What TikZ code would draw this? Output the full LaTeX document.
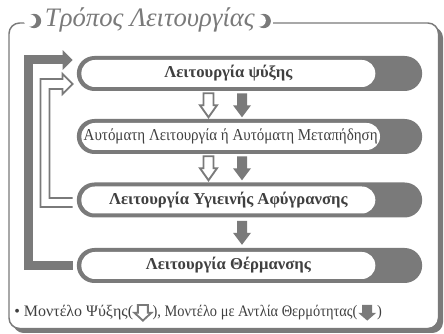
\documentclass[tikz,border=0pt]{standalone}
\usepackage{fontspec}
\setmainfont{Liberation Serif}
\newfontfamily\condfont[FakeStretch=0.9]{Liberation Serif}
\usetikzlibrary{arrows.meta,calc,shapes.misc,positioning}

\definecolor{modegray}{HTML}{7A7A7A}
\definecolor{inkgray}{HTML}{404040}

\tikzset{
  outerpill/.style={rounded rectangle, fill=modegray, minimum width=259pt,
    minimum height=26.25pt, inner sep=0pt},
  innerpill/.style={rounded rectangle, fill=white, minimum width=220.5pt,
    minimum height=20.25pt, inner sep=0pt, text=inkgray,
    font=\fontsize{12.5}{14}\selectfont\bfseries},
  backline/.style={draw=modegray, line width=6.75pt,
    -{Triangle[width=14.5pt,length=7.5pt]}},
  hollowline/.style={draw=modegray, line width=1.3pt, line join=miter},
  foot/.style={text=inkgray, font=\condfont\fontsize{12}{14}\selectfont, inner sep=0pt},
  hollowdown/.pic={\draw[modegray, line width=1.4pt, fill=white]
    (-5,0) -- (-5,12) -- (-8.5,12) -- (0,24) -- (8.5,12) -- (5,12) -- (5,0) -- cycle;},
  soliddown/.pic={\fill[modegray]
    (-5,0) -- (-5,12) -- (-9,12) -- (0,24) -- (9,12) -- (5,12) -- (5,0) -- cycle;},
  moon/.pic={\fill[modegray] (0,0) circle (5.4pt);
    \fill[white] (-4,-0.5) circle (4.6pt);}
}

\begin{document}
\begin{tikzpicture}[x=0.75pt,y=-0.75pt]
  \useasboundingbox (0,0) rectangle (444,334);

  % frame with shadow
  \fill[modegray, rounded corners=8pt] (13,27) rectangle (443,333);
  \draw[modegray, line width=1.1pt, fill=white, rounded corners=8pt] (9,23) rectangle (438.5,328.5);
  \node[anchor=west, fill=white, inner ysep=1pt, inner xsep=14pt, text=modegray,
    font=\fontsize{20}{22}\selectfont\itshape] (title) at (26,20) {Τρόπος Λειτουργίας};
  \pic at ($(title.west)+(8,1)$) {moon};
  \pic at ($(title.east)+(-10,1)$) {moon};

  % modes
  \node[outerpill] (cool) at (249.5,73.5) {};
  \node[innerpill, anchor=west] (coolt) at ($(cool.west)+(4.5,0)$) {Λειτουργία ψύξης};
  \node[outerpill] (auto) at (249.5,136.5) {};
  \node[innerpill, anchor=west, font=\condfont\fontsize{12.5}{14}\selectfont] (autot)
    at ($(auto.west)+(4.5,0)$) {Αυτόματη Λειτουργία ή Αυτόματη Μεταπήδηση};
  \node[outerpill] (dry) at (249.5,200) {};
  \node[innerpill, anchor=west] (dryt) at ($(dry.west)+(4.5,0)$) {Λειτουργία Υγιεινής Αφύγρανσης};
  \node[outerpill] (heat) at (249.5,265.5) {};
  \node[innerpill, anchor=west] (heatt) at ($(heat.west)+(4.5,0)$) {Λειτουργία Θέρμανσης};

  % down arrows
  \pic at ($(cool.south)+(-41,2)$) {hollowdown};
  \pic at ($(cool.south)+(-7.5,2)$) {soliddown};
  \pic at ($(auto.south)+(-41,2)$) {hollowdown};
  \pic at ($(auto.south)+(-7.5,2)$) {soliddown};
  \pic at ($(dry.south)+(-7.5,3)$) {soliddown};

  % return arrows
  \draw[backline] ($(heat.west)+(-4,0)$) -- ++(-44.5,0) |- ($(cool.west)+(-4,-13.5)$);
  \draw[hollowline] ($(dry.west)+(-4,7)$) -| ($(cool.west)+(-36,5.5)$) -- ++(22,0)
    -- ++(0,-5) -- ($(cool.west)+(-4,10.5)$) -- ++(-10,10) -- ++(0,-5)
    -| ($(dry.west)+(-27,-2)$) -- ++(23,0);

  % legend
  \node[foot, anchor=base west, font=\fontsize{12}{14}\selectfont] (fa) at (14,317) {• Μοντέλο Ψύξης(};
  \pic[yscale=0.65] at ($(fa.base east)+(9.5,-12)$) {hollowdown};
  \node[foot, anchor=base west] (fb) at ($(fa.base east)+(19,0)$) {), Μοντέλο με Αντλία Θερμότητας(};
  \pic[yscale=0.65] at ($(fb.base east)+(9.5,-12)$) {soliddown};
  \node[foot, anchor=base west] (fc) at ($(fb.base east)+(19,0)$) {)};
\end{tikzpicture}
\end{document}
